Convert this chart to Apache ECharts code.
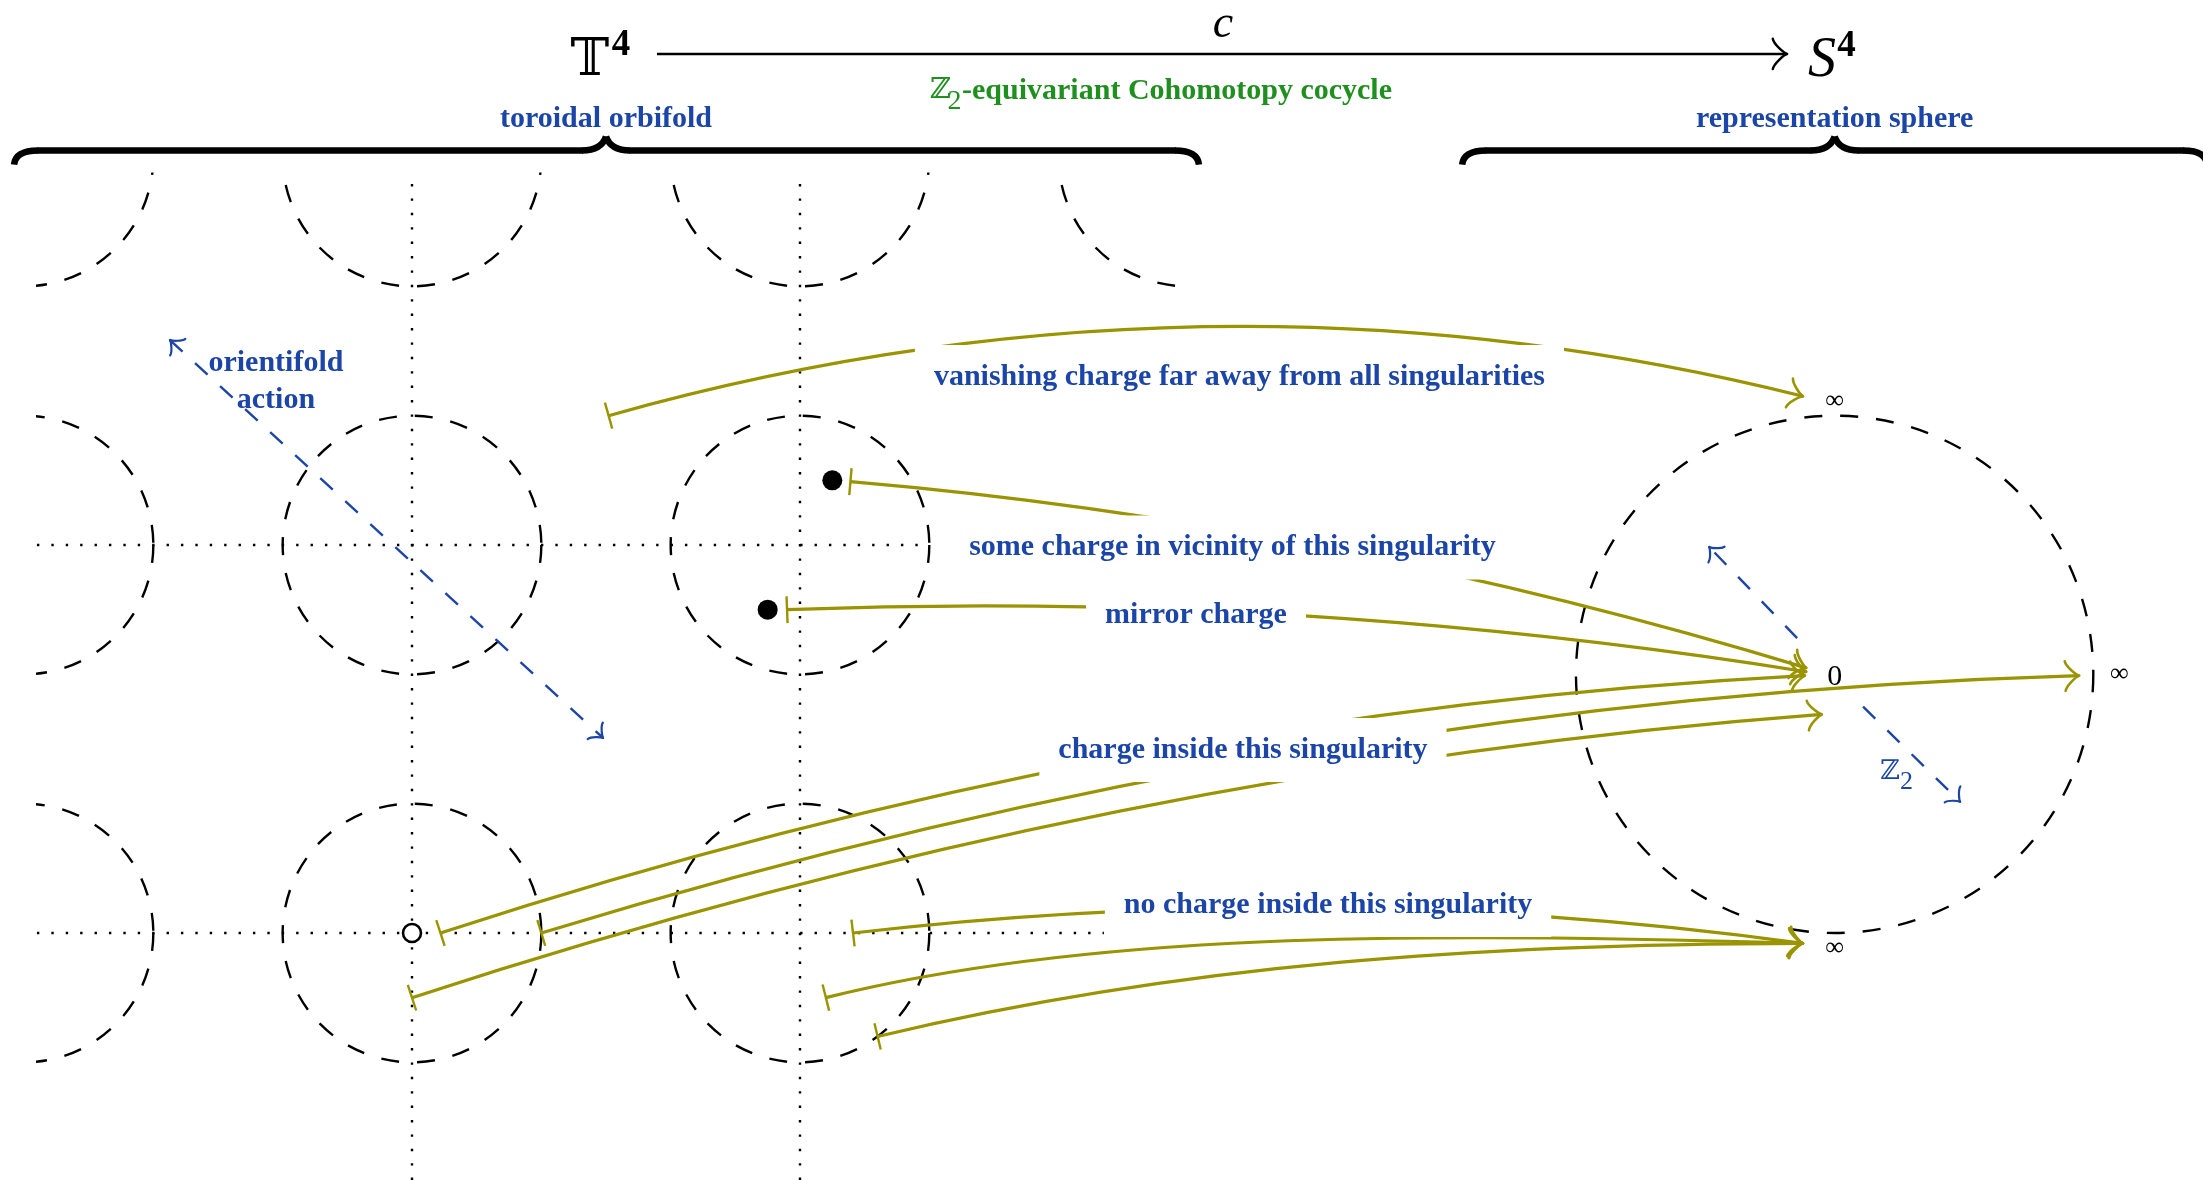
<!DOCTYPE html>
<html><head><meta charset="utf-8">
<script src="https://cdn.jsdelivr.net/npm/echarts@6/dist/echarts.min.js"></script>
<style>html,body{margin:0;padding:0;background:#fff;}#c{width:2203px;height:1180px;}</style>
</head><body><div id="c"></div>
<script>
// ---------------- data (diagram units: lattice spacing 3, singularity radius 1) ----------------
const latticeCenters = [[-3,0],[0,0],[3,0],[-3,3],[0,3],[3,3],[-3,6],[0,6],[3,6],[6,6]];
const latticeRadius = 1;
const dottedRows = [[0, -2.9, 5.35], [3, -2.9, 4.0]];      // [v, uFrom, uTo]
const dottedCols = [[0, -1.91, 5.88], [3, -1.91, 5.88]];   // [u, vFrom, vTo]
const sphereCenter = [11, 2];
const sphereRadius = 2;
const chargeDots = [[3.25, 3.5], [2.75, 2.5]];
const emptyDots = [[0, 0]];

// charge maps (bezier control polygons, from |- to ->)
const mapVanishing = [[1.52,4.0],[6.14,5.30],[10.755,4.15]];
const mapVicinity  = [[3.39,3.49],[7.08,3.175],[10.78,2.05]];
const mapMirror    = [[2.9,2.5],[6.84,2.65],[10.78,2.02]];
const mapInside1   = [[0.22,0],[5.49,1.72],[10.77,1.99]];
const mapInside2   = [[1.0,0],[6.945,1.815],[12.89,1.99]];
const mapInside3   = [[0,-0.5],[5.45,1.28],[10.90,1.69]];
const mapNone1     = [[3.41,0],[7.08,0.43],[10.755,-0.08]];
const mapNone2     = [[3.2,-0.5],[5.2,0.0],[7.73,0.013],[10.755,-0.08]];
const mapNone3     = [[3.6,-0.8],[6.0,-0.228],[8.33,-0.085],[10.755,-0.08]];
const chargeMaps = [mapVanishing, mapVicinity, mapMirror, mapInside1, mapInside2, mapInside3, mapNone1, mapNone2, mapNone3];

const orientifoldArrow = [[-1.871,4.585],[1.477,1.508]];
const z2Arrows = [[[10.71,2.28],[10.03,2.985]], [[11.22,1.75],[11.97,1.015]]];
const cocycleArrow = [[1.894,6.797],[10.632,6.797]];
const braces = [[-3.077, 6.085, 1.5, 6.05], [8.12, 13.88, 11.0, 6.05]]; // [uLeft, uRight, uTip, v]

const boxedLabels = ['vanishing charge far away from all singularities','some charge in vicinity of this singularity','mirror charge','charge inside this singularity','no charge inside this singularity'];
const boxedLabelAt = [[6.398,4.299],[6.344,2.98],[6.062,2.459],[6.425,1.415],[7.083,0.2165]];

const plainTexts = ['𝕋','4','S','4','c','ℤ','2','-equivariant Cohomotopy cocycle','toroidal orbifold','representation sphere','orientifold','action','ℤ','2','0','∞','∞','∞'];
const plainTextAt = [[1.376,6.735],[1.616,6.862],[10.902,6.742],[11.092,6.855],[6.271,7.025],[4.086,6.511],[4.195,6.43],[4.253,6.511],[1.5,6.29],[11.0,6.29],[-1.052,4.407],[-1.052,4.121],[11.428,1.245],[11.556,1.168],[11.0,1.98],[11.0,4.11],[13.2,2.0],[11.0,-0.12]];

// ---------------- styles / layout ----------------
const OLIVE = '#9a9400', BLUE = '#1c45a8', GREEN = '#1f8f1f', BLACK = '#000';
const SERIF = '"Liberation Serif","Times New Roman",serif';
const MATHBB = '"DejaVu Serif","DejaVu Sans",serif';
const LABEL_FONT = 'bold 30px ' + SERIF;
const plainTextStyle = [
  ['52px ' + MATHBB, BLACK, 'center'], ['bold 37px ' + SERIF, BLACK, 'center'],
  ['italic 56px ' + SERIF, BLACK, 'center'], ['bold 37px ' + SERIF, BLACK, 'center'],
  ['italic 46px ' + SERIF, BLACK, 'center'],
  ['29px ' + MATHBB, GREEN, 'center'], ['28px ' + SERIF, GREEN, 'center'], [LABEL_FONT, GREEN, 'left'],
  [LABEL_FONT, BLUE, 'center'], [LABEL_FONT, BLUE, 'center'], [LABEL_FONT, BLUE, 'center'], [LABEL_FONT, BLUE, 'center'],
  ['27px ' + MATHBB, BLUE, 'center'], ['26px ' + SERIF, BLUE, 'center'],
  ['30px ' + SERIF, BLACK, 'center'], ['26px ' + SERIF, BLACK, 'center'], ['26px ' + SERIF, BLACK, 'center'], ['26px ' + SERIF, BLACK, 'center']
];
const W = 2203, H = 1180, UNIT = 129.33, ORIGIN = [412, 933];
const X_MIN = -ORIGIN[0]/UNIT, X_MAX = (W-ORIGIN[0])/UNIT;
const Y_MIN = -(H-ORIGIN[1])/UNIT, Y_MAX = ORIGIN[1]/UNIT;
const CLIP = [[-2.9, Y_MIN],[5.923, 5.88]];

// ---------------- helpers (pixel-space decorations) ----------------
function unit(a, b){ let dx=b[0]-a[0], dy=b[1]-a[1]; const L=Math.hypot(dx,dy)||1; return [dx/L, dy/L]; }
function toHead(tip, from, a, color, lw){
  const d = unit(from, tip);
  const P = (f, s) => [tip[0]+d[0]*f-d[1]*s, tip[1]+d[1]*f+d[0]*s];
  return [1,-1].map(sg => { const p0=P(-3.75*a,4*a*sg), c1=P(-3.5*a,2.5*a*sg), c2=P(-0.75*a,0.25*a*sg);
    return {type:'bezierCurve', shape:{x1:p0[0],y1:p0[1],cpx1:c1[0],cpy1:c1[1],cpx2:c2[0],cpy2:c2[1],x2:tip[0],y2:tip[1]},
      style:{fill:'none',stroke:color,lineWidth:lw,lineCap:'round'}}; });
}
function barAt(p, toward, half, color, lw){
  const d = unit(p, toward);
  return {type:'line', shape:{x1:p[0]-d[1]*half, y1:p[1]+d[0]*half, x2:p[0]+d[1]*half, y2:p[1]-d[0]*half},
    style:{stroke:color, lineWidth:lw}};
}
function bezEl(P, style){
  const s = {x1:P[0][0], y1:P[0][1], x2:P[P.length-1][0], y2:P[P.length-1][1], cpx1:P[1][0], cpy1:P[1][1]};
  if (P.length === 4){ s.cpx2 = P[2][0]; s.cpy2 = P[2][1]; }
  return {type:'bezierCurve', shape:s, style:Object.assign({fill:'none'}, style)};
}
function bezPt(P, t){
  if (P.length===3){ const a=(1-t)*(1-t), b=2*t*(1-t), c=t*t; return [a*P[0][0]+b*P[1][0]+c*P[2][0], a*P[0][1]+b*P[1][1]+c*P[2][1]]; }
  const a=(1-t)**3, b=3*t*(1-t)**2, c=3*t*t*(1-t), e=t**3;
  return [a*P[0][0]+b*P[1][0]+c*P[2][0]+e*P[3][0], a*P[0][1]+b*P[1][1]+c*P[2][1]+e*P[3][1]];
}

const option = {
  animation: false,
  backgroundColor: '#fff',
  grid: [
    {left:0, top:0, width:W, height:H},
    {left:(CLIP[0][0]-X_MIN)*UNIT, top:(Y_MAX-CLIP[1][1])*UNIT, width:(CLIP[1][0]-CLIP[0][0])*UNIT, height:(CLIP[1][1]-CLIP[0][1])*UNIT}
  ],
  xAxis: [
    {type:'value', gridIndex:0, min:X_MIN, max:X_MAX, show:false},
    {type:'value', gridIndex:1, min:CLIP[0][0], max:CLIP[1][0], show:false}
  ],
  yAxis: [
    {type:'value', gridIndex:0, min:Y_MIN, max:Y_MAX, show:false},
    {type:'value', gridIndex:1, min:CLIP[0][1], max:CLIP[1][1], show:false}
  ],
  series: [
    { // lattice of singularity neighbourhoods
      type:'custom', xAxisIndex:1, yAxisIndex:1, clip:true, z:1, silent:true,
      data: latticeCenters.map(c => [c[0], c[1]]),
      renderItem: (params, api) => {
        const c = api.coord([api.value(0), api.value(1)]);
        const r = api.size([latticeRadius, 0])[0];
        return {type:'circle', shape:{cx:c[0], cy:c[1], r:r}, style:{fill:'none', stroke:BLACK, lineWidth:2.4, lineDash:[18,18]}};
      }
    },
    { // dotted axes through singularities
      type:'custom', xAxisIndex:1, yAxisIndex:1, clip:true, z:1, silent:true,
      data: dottedRows.map(r => [r[1], r[0], r[2], r[0]]).concat(dottedCols.map(c => [c[0], c[1], c[0], c[2]])),
      renderItem: (params, api) => {
        const a = api.coord([api.value(0), api.value(1)]), b = api.coord([api.value(2), api.value(3)]);
        return {type:'line', shape:{x1:a[0], y1:a[1], x2:b[0], y2:b[1]}, style:{stroke:BLACK, lineWidth:2.4, lineDash:[2.4,12]}};
      }
    },
    { // representation sphere
      type:'custom', z:1, silent:true,
      data: [[sphereCenter[0], sphereCenter[1]]],
      renderItem: (params, api) => {
        const c = api.coord([api.value(0), api.value(1)]);
        const r = api.size([sphereRadius, 0])[0];
        return {type:'circle', shape:{cx:c[0], cy:c[1], r:r}, style:{fill:'none', stroke:BLACK, lineWidth:2.4, lineDash:[18,18]}};
      }
    },
    { // charge maps
      type:'custom', z:3, silent:true,
      data: chargeMaps.map((m, i) => [m[0][0], m[0][1], i]),
      renderItem: (params, api) => {
        const P = chargeMaps[api.value(2)].map(p => api.coord(p));
        const n = P.length;
        const near = bezPt(P, 0.985);
        return {type:'group', children:[
          bezEl(P, {stroke:OLIVE, lineWidth:3.2}),
          barAt(P[0], P[1], 13.5, OLIVE, 2.4)
        ].concat(toHead(P[n-1], near, 3.7, OLIVE, 2.6))};
      }
    },
    { // blue dashed group-action arrows
      type:'custom', z:3, silent:true,
      data: [[0],[1],[2]],
      renderItem: (params, api) => {
        const i = params.dataIndex;
        const seg = i === 0 ? orientifoldArrow : z2Arrows[i-1];
        const a = api.coord(seg[0]), b = api.coord(seg[1]);
        const kids = [{type:'line', shape:{x1:a[0],y1:a[1],x2:b[0],y2:b[1]}, style:{stroke:BLUE, lineWidth:2.4, lineDash:[17,17]}}];
        let heads = toHead(b, a, 2.8, BLUE, 2.2);
        if (i === 0) heads = heads.concat(toHead(a, b, 2.8, BLUE, 2.2));
        return {type:'group', children:kids.concat(heads)};
      }
    },
    { // cocycle arrow, braces
      type:'custom', z:3, silent:true,
      data: [[0],[1],[2]],
      renderItem: (params, api) => {
        const i = params.dataIndex;
        if (i === 0){
          const a = api.coord(cocycleArrow[0]), b = api.coord(cocycleArrow[1]);
          return {type:'group', children:[{type:'line', shape:{x1:a[0],y1:a[1],x2:b[0],y2:b[1]}, style:{stroke:BLACK, lineWidth:2.6}}].concat(toHead(b, a, 3.8, BLACK, 2.4))};
        }
        const br = braces[i-1];
        const L = api.coord([br[0], br[3]]), R = api.coord([br[1], br[3]]), T = api.coord([br[2], br[3]]);
        const y = L[1], xl = L[0], xr = R[0], xt = T[0];
        const st = {stroke:BLACK, lineWidth:6.5, fill:'none'};
        const bz = (x1,y1,c1x,c1y,c2x,c2y,x2,y2) => ({type:'bezierCurve', shape:{x1,y1,cpx1:c1x,cpy1:c1y,cpx2:c2x,cpy2:c2y,x2,y2}, style:st});
        return {type:'group', children:[
          bz(xl, y+14, xl+1, y+5, xl+8, y, xl+24, y),
          {type:'line', shape:{x1:xl+23, y1:y, x2:xt-23, y2:y}, style:st},
          bz(xt-24, y, xt-10, y, xt-3, y-5, xt, y-14),
          bz(xt, y-14, xt+3, y-5, xt+10, y, xt+24, y),
          {type:'line', shape:{x1:xt+23, y1:y, x2:xr-23, y2:y}, style:st},
          bz(xr-24, y, xr-8, y, xr-1, y+5, xr, y+14)
        ]};
      }
    },
    { // charges
      type:'custom', z:4, silent:true,
      data: chargeDots.map(p => [p[0], p[1], 1]).concat(emptyDots.map(p => [p[0], p[1], 0])),
      renderItem: (params, api) => {
        const c = api.coord([api.value(0), api.value(1)]);
        return api.value(2) ? {type:'circle', shape:{cx:c[0], cy:c[1], r:10}, style:{fill:BLACK}}
          : {type:'circle', shape:{cx:c[0], cy:c[1], r:9}, style:{fill:'#fff', stroke:BLACK, lineWidth:2.6}};
      }
    },
    { // boxed labels
      type:'custom', z:5, silent:true,
      data: boxedLabelAt.map(p => [p[0], p[1]]),
      renderItem: (params, api) => {
        const c = api.coord([api.value(0), api.value(1)]);
        return {type:'text', x:c[0], y:c[1], style:{text:boxedLabels[params.dataIndex], font:LABEL_FONT, fill:BLUE,
          align:'center', verticalAlign:'middle', backgroundColor:'#fff', padding:[17,19]}};
      }
    },
    { // other texts
      type:'custom', z:6, silent:true,
      data: plainTextAt.map(p => [p[0], p[1]]),
      renderItem: (params, api) => {
        const c = api.coord([api.value(0), api.value(1)]);
        const s = plainTextStyle[params.dataIndex];
        return {type:'text', x:c[0], y:c[1], style:{text:plainTexts[params.dataIndex], font:s[0], fill:s[1], align:s[2], verticalAlign:'middle'}};
      }
    }
  ]
};
const chart = echarts.init(document.getElementById('c'), null, {renderer:'canvas', width:W, height:H});
chart.setOption(option);
</script>
</body></html>
